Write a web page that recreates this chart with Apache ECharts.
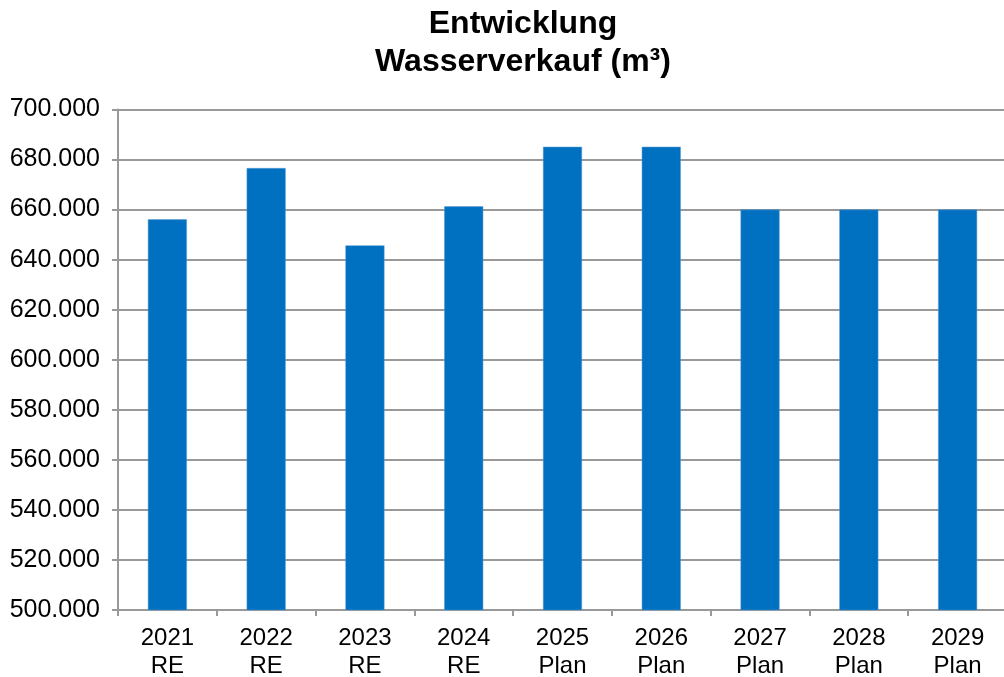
<!DOCTYPE html>
<html>
<head>
<meta charset="utf-8">
<script src="https://cdn.jsdelivr.net/npm/echarts@6/dist/echarts.min.js"></script>
<style>html,body{margin:0;padding:0;background:#fff}#c{width:1004px;height:677px}</style>
</head>
<body>
<div id="c"></div>
<script>
const years = ['2021','2022','2023','2024','2025','2026','2027','2028','2029'];
const kinds = ['RE','RE','RE','RE','Plan','Plan','Plan','Plan','Plan'];
const values = [656100, 676600, 645700, 661300, 685100, 685100, 660000, 660000, 660000];
const titleText = 'Entwicklung\nWasserverkauf (m³)';

const categories = years.map((y, i) => y + '\n' + kinds[i]);
const chart = echarts.init(document.getElementById('c'), null, {renderer: 'canvas'});
const font = '"Liberation Sans", Arial, sans-serif';
chart.setOption({
  animation: false,
  title: {
    text: titleText,
    left: 518,
    top: 0,
    textAlign: 'center',
    textStyle: {fontFamily: font, fontSize: 32, fontWeight: 'bold', color: '#000', lineHeight: 38}
  },
  grid: {left: 118, right: -3, top: 109.5, bottom: 67, containLabel: false, outerBoundsMode: 'none'},
  xAxis: {
    type: 'category',
    data: categories,
    axisLine: {lineStyle: {color: '#999', width: 2}},
    axisTick: {show: true, alignWithLabel: false, length: 6, lineStyle: {color: '#999', width: 2}},
    axisLabel: {fontFamily: font, fontSize: 24, color: '#000', lineHeight: 28, margin: 14}
  },
  yAxis: {
    type: 'value',
    min: 500000,
    max: 700000,
    interval: 20000,
    axisLine: {show: true, lineStyle: {color: '#999', width: 2}},
    axisTick: {show: true, length: 6, lineStyle: {color: '#999', width: 2}},
    splitLine: {lineStyle: {color: '#999', width: 2}},
    axisLabel: {
      fontFamily: font, fontSize: 25, color: '#000', margin: 18,
      formatter: v => Math.round(v / 1000) + '.000'
    }
  },
  series: [{
    type: 'bar',
    data: values,
    barWidth: 39,
    itemStyle: {color: '#0070C0', borderColor: '#5B9BD5', borderWidth: 0.5}
  }]
});
</script>
</body>
</html>
